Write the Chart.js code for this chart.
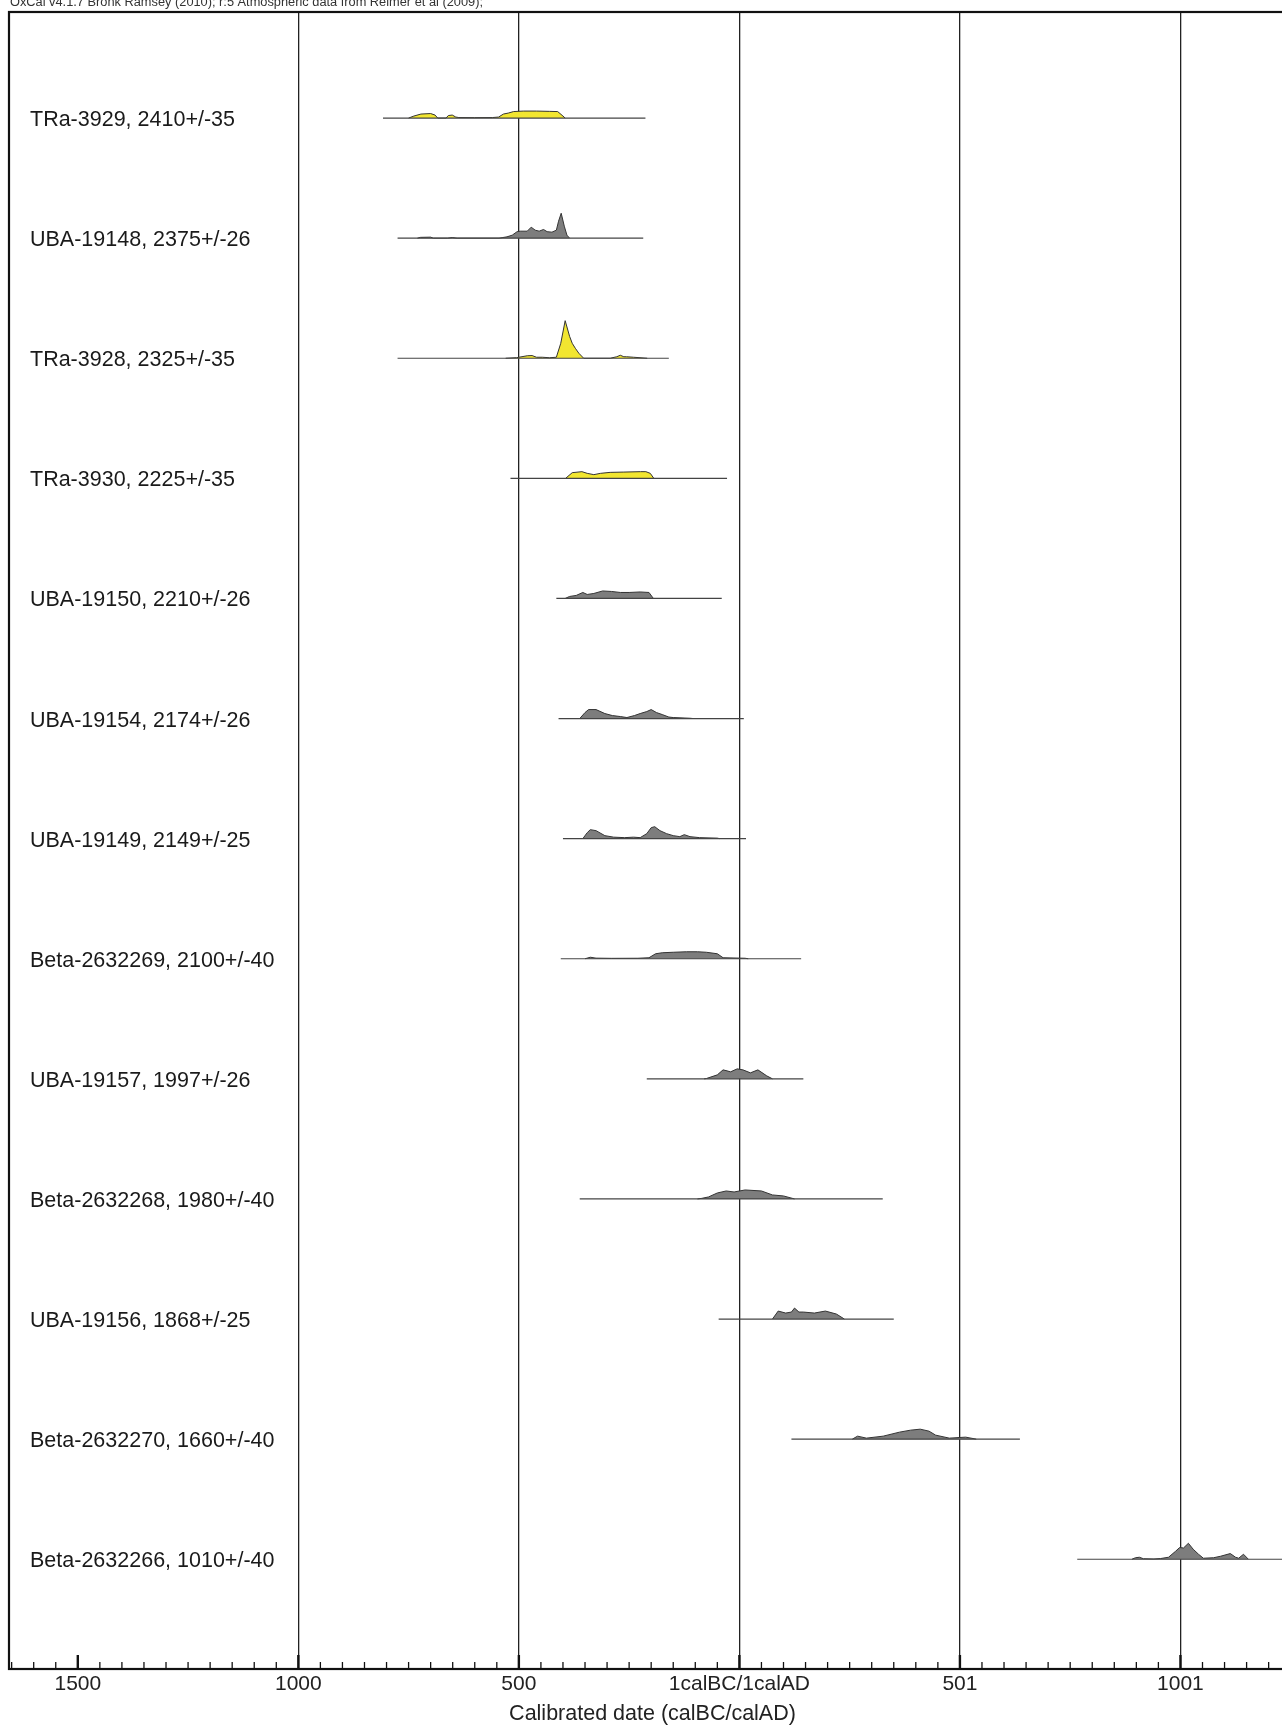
<!DOCTYPE html>
<html>
<head>
<meta charset="utf-8">
<script src="https://cdn.jsdelivr.net/npm/chart.js@4.4.1/dist/chart.umd.min.js"></script>
<style>
html, body { margin: 0; padding: 0; overflow: hidden; background: #fff; }
#wrap { width: 1298px; height: 1730px; }
</style>
</head>
<body>
<div id="wrap"><canvas id="oxcal" width="1298" height="1730"></canvas></div>
<script>
const header = 'OxCal v4.1.7 Bronk Ramsey (2010); r:5 Atmospheric data from Reimer et al (2009);';

const samples = [
    'TRa-3929, 2410+/-35', 'UBA-19148, 2375+/-26', 'TRa-3928, 2325+/-35', 'TRa-3930, 2225+/-35',
    'UBA-19150, 2210+/-26', 'UBA-19154, 2174+/-26', 'UBA-19149, 2149+/-25', 'Beta-2632269, 2100+/-40',
    'UBA-19157, 1997+/-26', 'Beta-2632268, 1980+/-40', 'UBA-19156, 1868+/-25', 'Beta-2632270, 1660+/-40',
    'Beta-2632266, 1010+/-40'
];

// calibrated range drawn under each distribution (year, BC negative)
const rangeStart = [-808, -775, -775, -519, -415, -410, -400, -405, -210, -362, -47, 118, 766];
const rangeEnd   = [-213, -218, -160, -28, -40, 10, 15, 140, 145, 325, 350, 636, 1400];

// relative probability, [year, prob]
const probTRa3929 = [[-750,0],[-738,2],[-722,4],[-700,4.5],[-690,3],[-684,0],[-665,0],[-660,2.5],[-651,3],[-643,1],[-636,0.5],[-600,0.4],[-560,0.5],[-546,1],[-535,4],[-524,5],[-512,6.5],[-490,7],[-460,7],[-430,6.7],[-412,6.5],[-400,2],[-395,0]];
const probUBA19148 = [[-730,0],[-723,0.8],[-700,1],[-694,0],[-662,0],[-651,0.6],[-640,0],[-545,0],[-538,0.5],[-527,1.3],[-515,3],[-504,6.5],[-497,7],[-481,7],[-472,11],[-463,8],[-454,7],[-444,8.7],[-436,6.5],[-425,6],[-415,8],[-410,17],[-404,25],[-397,12],[-391,3],[-385,0]];
const probTRa3928 = [[-530,0],[-505,0.6],[-481,2.5],[-470,2.7],[-460,1],[-447,1],[-430,0.5],[-415,1],[-405,15],[-395,37.7],[-385,22],[-379,15],[-372,10],[-364,5],[-353,0],[-293,0],[-278,1.5],[-270,3],[-262,1.5],[-256,1.5],[-240,1],[-209,0]];
const probTRa3930 = [[-394,0],[-379,5.7],[-357,6.7],[-345,5],[-330,3.7],[-315,5],[-293,6],[-262,6.3],[-224,6.7],[-212,6.7],[-202,5],[-194,0]];
const probUBA19150 = [[-395,0],[-385,2],[-370,3],[-355,6],[-345,4],[-330,5],[-310,7.5],[-290,7],[-270,6],[-250,6],[-225,6.5],[-205,6],[-195,0]];
const probUBA19154 = [[-362,0],[-350,6],[-342,9],[-325,9],[-305,5],[-288,3],[-270,2],[-255,1],[-238,3],[-225,5],[-210,7],[-200,9],[-188,6],[-175,4],[-160,1.5],[-150,1],[-112,0.3],[-105,0]];
const probUBA19149 = [[-355,0],[-345,6],[-338,9],[-325,8],[-305,3],[-285,1.5],[-260,1],[-240,1.5],[-225,1],[-210,5],[-200,11],[-192,12],[-180,8],[-165,5],[-150,3],[-135,2],[-125,4],[-112,2],[-90,1],[-50,0.5],[-45,0]];
const probBeta2632269 = [[-350,0],[-338,1.5],[-325,0.6],[-290,0.4],[-230,0.5],[-205,1],[-190,5],[-175,6],[-150,6.5],[-120,7],[-95,7],[-75,6.5],[-50,5],[-37,1],[13,0.5],[20,0]];
const probUBA19157 = [[-80,0],[-75,0.3],[-50,4],[-37,9],[-28,8],[-20,7],[-5,10],[8,9],[25,6],[42,9],[62,3],[75,0]];
const probBeta2632268 = [[-95,0],[-85,0.6],[-70,2],[-50,6],[-30,8],[-12,7],[13,9],[50,8],[75,4],[100,3],[125,0]];
const probUBA19156 = [[75,0],[88,8],[105,6],[118,7],[125,11],[135,7],[145,7],[170,6],[195,8],[220,5],[238,0]];
const probBeta2632270 = [[256,0],[268,3],[288,1],[326,3],[363,7],[388,9],[410,10],[430,8],[445,4],[476,1],[513,2],[537,0]];
const probBeta2632266 = [[890,0],[898,1.5],[907,2],[916,0.5],[940,0.3],[955,0.7],[973,2],[989,8],[998,11.7],[1007,11.3],[1018,16],[1029,10],[1041,5],[1052,1],[1075,1.5],[1091,3],[1113,5.7],[1125,2],[1132,1],[1143,5],[1154,0]];

const distributions = [probTRa3929, probUBA19148, probTRa3928, probTRa3930, probUBA19150, probUBA19154,
    probUBA19149, probBeta2632269, probUBA19157, probBeta2632268, probUBA19156, probBeta2632270, probBeta2632266];

const tickValues = [-1500, -1000, -500, 0, 500, 1000];
const tickLabels = ['1500', '1000', '500', '1calBC/1calAD', '501', '1001'];

const PROB_TO_ROW = 0.0083; // one probability unit as a fraction of a row
const FONT = '"Liberation Sans", Arial, sans-serif';

const datasets = [];
samples.forEach((name, i) => {
    const row = i + 1;
    datasets.push({
        data: [{ x: rangeStart[i], y: row }, { x: rangeEnd[i], y: row }],
        showLine: true,
        borderColor: '#444',
        borderWidth: 1.2,
        pointRadius: 0,
        fill: false
    });
    datasets.push({
        data: distributions[i].map(p => ({ x: p[0], y: row - p[1] * PROB_TO_ROW })),
        showLine: true,
        borderColor: '#333',
        borderWidth: 1,
        pointRadius: 0,
        backgroundColor: name.startsWith('TRa') ? '#f2e630' : '#7d7d7d',
        fill: { value: row }
    });
});

// frame, inner tick marks, sample names, header
const oxcalDecor = {
    id: 'oxcalDecor',
    afterDraw(chart) {
        const { ctx, chartArea: a, scales: { x, y } } = chart;
        ctx.save();
        ctx.strokeStyle = '#111';
        for (let v = -1650; v <= 1300; v += 50) {
            const px = x.getPixelForValue(v);
            if (px < a.left || px > a.right) continue;
            const major = v % 500 === 0;
            ctx.lineWidth = major ? 2.4 : 1.3;
            ctx.beginPath();
            ctx.moveTo(px, a.bottom);
            ctx.lineTo(px, a.bottom - (major ? 14 : 7));
            ctx.stroke();
        }
        ctx.lineWidth = 2.2;
        ctx.strokeRect(a.left, a.top, a.right - a.left, a.bottom - a.top);

        ctx.font = '21.5px ' + FONT;
        ctx.fillStyle = '#1a1a1a';
        ctx.textBaseline = 'alphabetic';
        samples.forEach((s, i) => ctx.fillText(s, a.left + 21, y.getPixelForValue(i + 1) + 8));

        ctx.font = '12.8px ' + FONT;
        ctx.fillStyle = '#333';
        ctx.fillText(header, 10, 6);
        ctx.restore();
    }
};

const chart = new Chart(document.getElementById('oxcal').getContext('2d'), {
    type: 'scatter',
    data: { datasets: datasets },
    plugins: [oxcalDecor],
    options: {
        responsive: false,
        animation: false,
        devicePixelRatio: 1,
        layout: { padding: { left: 9, top: 12, right: 2, bottom: 0 } },
        plugins: { legend: { display: false }, tooltip: { enabled: false } },
        scales: {
            x: {
                type: 'linear',
                position: 'bottom',
                min: -1656,
                max: 1262,
                z: 1,
                afterBuildTicks: s => { s.ticks = tickValues.map(v => ({ value: v })); },
                ticks: {
                    autoSkip: false,
                    maxRotation: 0,
                    padding: 3,
                    color: '#222',
                    font: { family: FONT, size: 21 },
                    callback: (v, idx) => tickLabels[idx]
                },
                grid: {
                    drawTicks: false,
                    lineWidth: 1.3,
                    color: c => (c.tick && c.tick.value === -1500) ? 'rgba(0,0,0,0)' : '#222'
                },
                border: { display: false },
                title: {
                    display: true,
                    text: 'Calibrated date (calBC/calAD)',
                    color: '#222',
                    font: { family: FONT, size: 21.5 },
                    padding: { top: 1, bottom: 3 }
                }
            },
            y: {
                type: 'linear',
                display: false,
                reverse: true,
                min: 0.117,
                max: 13.914
            }
        }
    }
});
</script>
</body>
</html>
